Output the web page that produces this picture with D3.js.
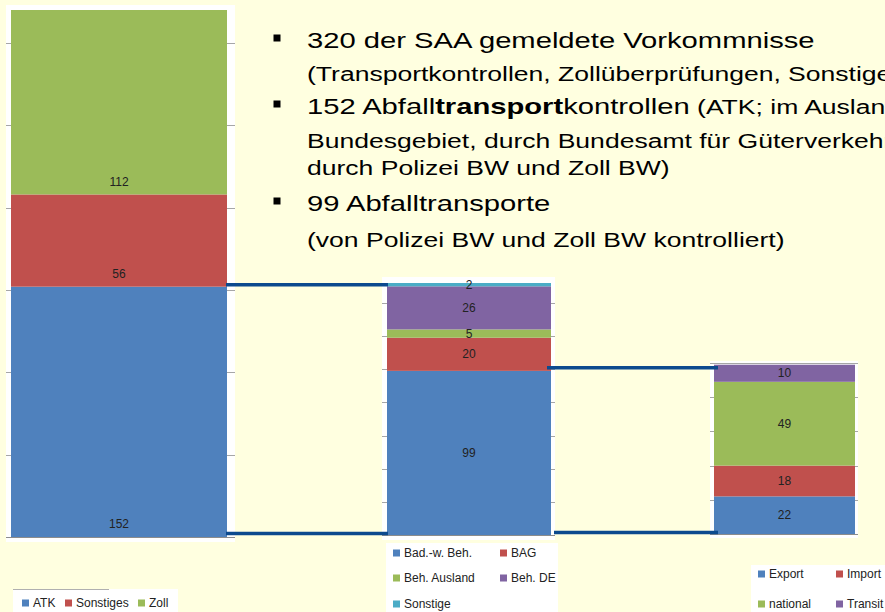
<!DOCTYPE html>
<html>
<head>
<meta charset="utf-8">
<script src="https://cdn.jsdelivr.net/npm/d3@7.9.0/dist/d3.min.js"></script>
<style>
  body { margin: 0; background: #ffffe0; overflow: hidden; }
  svg { display: block; font-family: "Liberation Sans", Arial, sans-serif; }
</style>
</head>
<body>
<svg id="slide" width="885" height="612"></svg>
<script>
// Werte aus dem Bild
const meldungCats = ["ATK", "Sonstiges", "Zoll"];
const meldungVals = [152, 56, 112];

const atkCats = ["Bad.-w. Beh.", "BAG", "Beh. Ausland", "Beh. DE", "Sonstige"];
const atkVals = [99, 20, 5, 26, 2];

const transportCats = ["Export", "Import", "national", "Transit"];
const transportVals = [22, 18, 49, 10];

const colors = ["#4f81bd", "#c0504d", "#9bbb59", "#8064a2", "#4bacc6"];

// Layout of the three stacked columns
const charts = [
  { cats: meldungCats, vals: meldungVals, max: 320, ticks: 10,
    panel: [6, 5, 235, 542], bar: [11, 227], y: [537, 10], labels: "base",
    legend: { box: [13, 589, 178, 612], topLine: 109, cols: [22, 65, 138], rows: [603], perRow: 3 } },
  { cats: atkCats, vals: atkVals, max: 152, ticks: 10,
    panel: [382, 277, 555, 540], bar: [387, 551], y: [535, 283], labels: "center",
    legend: { box: [386, 543, 558, 612], cols: [393, 500], rows: [553, 578, 604], perRow: 2 } },
  { cats: transportCats, vals: transportVals, max: 100, ticks: 5,
    panel: [710, 361, 858, 538], bar: [714, 855], y: [534, 363], labels: "center",
    legend: { box: [751, 565, 885, 612], cols: [758, 836], rows: [574, 604], perRow: 2 } }
];

let svg = d3.select("#slide");
let scales = [];

charts.forEach((c) => {
  let g = svg.append("g");
  let [px0, py0, px1, py1] = c.panel;

  g.append("rect")
    .attr("x", px0).attr("y", py0)
    .attr("width", px1 - px0).attr("height", py1 - py0)
    .attr("fill", "#ffffff");

  let x = d3.scaleBand().domain(["all"]).range(c.bar).padding(0);
  let y = d3.scaleLinear().domain([0, c.max]).range(c.y);
  scales.push({ x, y });

  // gridlines, visible beside the bar
  g.selectAll("line.grid")
    .data(y.ticks(c.ticks))
    .join("line")
    .attr("class", "grid")
    .attr("x1", px0).attr("x2", px1)
    .attr("y1", (d) => Math.round(y(d)) + 0.5)
    .attr("y2", (d) => Math.round(y(d)) + 0.5)
    .attr("stroke", (d) => (d === 0 ? "#8c8c8c" : "#a6a6a6"))
    .attr("stroke-width", 1);

  let row = { key: "all" };
  c.cats.forEach((k, i) => (row[k] = c.vals[i]));
  let series = d3.stack().keys(c.cats)([row]);

  series.forEach((s, i) => {
    let d = s[0];
    g.append("rect")
      .attr("x", x("all"))
      .attr("width", x.bandwidth())
      .attr("y", y(d[1]))
      .attr("height", y(d[0]) - y(d[1]))
      .attr("fill", colors[i]);
  });

  series.forEach((s) => {
    let d = s[0];
    let ly = c.labels === "base" ? y(d[0]) - 13 : (y(d[0]) + y(d[1])) / 2;
    g.append("text")
      .attr("x", x("all") + x.bandwidth() / 2)
      .attr("y", ly)
      .attr("dy", "0.35em")
      .attr("text-anchor", "middle")
      .attr("font-size", 12)
      .attr("fill", "#222")
      .text(d[1] - d[0]);
  });

  // legend
  let L = c.legend;
  let lg = svg.append("g");
  lg.append("rect")
    .attr("x", L.box[0]).attr("y", L.box[1])
    .attr("width", L.box[2] - L.box[0]).attr("height", L.box[3] - L.box[1])
    .attr("fill", "#ffffff");
  if (L.topLine) {
    lg.append("line")
      .attr("x1", L.box[0]).attr("x2", L.topLine)
      .attr("y1", L.box[1] + 0.5).attr("y2", L.box[1] + 0.5)
      .attr("stroke", "#b0b0b0");
  }
  c.cats.forEach((k, i) => {
    let cx = L.cols[i % L.perRow];
    let cy = L.rows[Math.floor(i / L.perRow)];
    lg.append("rect")
      .attr("x", cx).attr("y", cy - 3.5)
      .attr("width", 7).attr("height", 7)
      .attr("fill", colors[i]);
    lg.append("text")
      .attr("x", cx + 11).attr("y", cy)
      .attr("dy", "0.35em")
      .attr("font-size", 12)
      .attr("fill", "#222")
      .text(k);
  });
});

// connector lines between the columns
let link = svg.append("g").attr("stroke", "#0c4a8e").attr("stroke-width", 3.5);
function connect(a, b, value, xa, xb) {
  let ya = scales[a].y(value), yb = scales[b].y(value);
  let yy = value === 0 ? Math.min(ya, yb) - 1.5 : (ya + yb) / 2;
  link.append("line").attr("x1", xa).attr("x2", xb).attr("y1", yy).attr("y2", yy);
}
let b1 = scales[0].x("all") + scales[0].x.bandwidth();
let b2l = scales[1].x("all");
let b2r = b2l + scales[1].x.bandwidth();
let b3l = scales[2].x("all");
connect(0, 1, meldungVals[0], b1 - 1, b2l + 1);
connect(0, 1, 0, b1 - 1, b2l + 1);
connect(1, 2, atkVals[0], b2r - 4, b3l + 4);
connect(1, 2, 0, b2r + 3, b3l + 4);

// bullet text
let txt = svg.append("g").attr("transform", "translate(307,0) scale(1.327,1)").attr("fill", "#000");
let lines = [
  { y: 48, bullet: true, parts: [["320 der SAA gemeldete Vorkommnisse", 22, 400]] },
  { y: 81, parts: [["(Transportkontrollen, Zollüberprüfungen, Sonstige)", 20, 400]] },
  { y: 114, bullet: true, parts: [["152 Abfall", 22, 400], ["transport", 22, 700], ["kontrollen", 22, 400], [" (ATK; im Ausland", 20, 400]] },
  { y: 148, parts: [["Bundesgebiet, durch Bundesamt für Güterverkehr", 20, 400]] },
  { y: 175, parts: [["durch Polizei BW und Zoll BW)", 20, 400]] },
  { y: 211, bullet: true, parts: [["99 Abfalltransporte", 22, 400]] },
  { y: 247, parts: [["(von Polizei BW und Zoll BW kontrolliert)", 20, 400]] }
];
lines.forEach((l) => {
  let t = txt.append("text").attr("x", 0).attr("y", l.y);
  l.parts.forEach(([s, size, w]) => {
    t.append("tspan").attr("font-size", size).attr("font-weight", w).text(s);
  });
  if (l.bullet) {
    svg.append("rect")
      .attr("x", 273.5).attr("y", l.y - 13.5)
      .attr("width", 7).attr("height", 7)
      .attr("fill", "#000");
  }
});
</script>
</body>
</html>
